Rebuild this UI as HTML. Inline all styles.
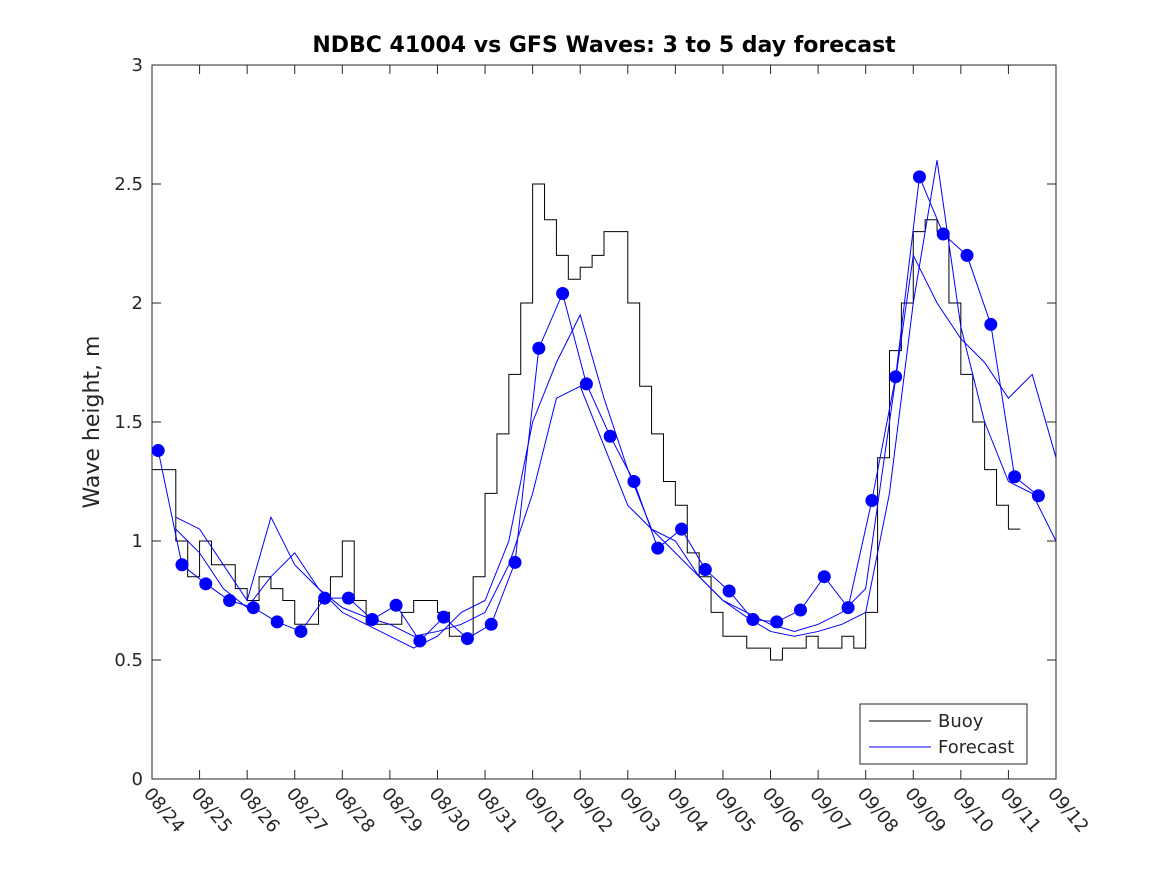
<!DOCTYPE html>
<html><head><meta charset="utf-8"><style>
body{margin:0;background:#fff;}
svg text{font-family:"DejaVu Sans","Liberation Sans",sans-serif;fill:#262626;}
</style></head><body>
<svg width="1167" height="875" viewBox="0 0 1167 875">
<rect width="1167" height="875" fill="#fff"/>
<defs><clipPath id="pc"><rect x="152" y="65" width="904" height="714"/></clipPath></defs>
<text x="604" y="52" text-anchor="middle" font-size="22" font-weight="bold" style="fill:#000">NDBC 41004 vs GFS Waves: 3 to 5 day forecast</text>
<g id="axes"></g>
<g id="series" clip-path="url(#pc)"></g>
<text transform="translate(99,422) rotate(-90)" text-anchor="middle" font-size="22">Wave height, m</text>
<g>
<rect x="860" y="704" width="167" height="60" fill="#fff" stroke="#262626" stroke-width="1"/>
<line x1="869" y1="721" x2="931" y2="721" stroke="#000"/>
<text x="938" y="727" font-size="18">Buoy</text>
<line x1="869" y1="747" x2="931" y2="747" stroke="#00f"/>
<text x="938" y="753" font-size="18">Forecast</text>
</g>
</svg>
<script>
const dateLabels=["08/24","08/25","08/26","08/27","08/28","08/29","08/30","08/31","09/01","09/02","09/03","09/04","09/05","09/06","09/07","09/08","09/09","09/10","09/11","09/12"];
const yTicks=[0,0.5,1,1.5,2,2.5,3];
const yTickLabels=["0","0.5","1","1.5","2","2.5","3"];
const buoyStart=0, buoyStep=0.25;
const buoyValues=[1.3,1.3,1.0,0.85,1.0,0.9,0.9,0.8,0.75,0.85,0.8,0.75,0.65,0.65,0.75,0.85,1.0,0.75,0.65,0.65,0.65,0.7,0.75,0.75,0.7,0.6,0.6,0.85,1.2,1.45,1.7,2.0,2.5,2.35,2.2,2.1,2.15,2.2,2.3,2.3,2.0,1.65,1.45,1.25,1.15,0.95,0.85,0.7,0.6,0.6,0.55,0.55,0.5,0.55,0.55,0.6,0.55,0.55,0.6,0.55,0.7,1.35,1.8,2.0,2.3,2.35,2.3,2.0,1.7,1.5,1.3,1.15,1.05,1.05];
const dotStart=0.13, dotStep=0.5;
const dotValues=[1.38,0.90,0.82,0.75,0.72,0.66,0.62,0.76,0.76,0.67,0.73,0.58,0.68,0.59,0.65,0.91,1.81,2.04,1.66,1.44,1.25,0.97,1.05,0.88,0.79,0.67,0.66,0.71,0.85,0.72,1.17,1.69,2.53,2.29,2.20,1.91,1.27,1.19];
const fStart=0.5, fStep=0.5;
const f2Values=[1.1,1.05,0.9,0.75,1.1,0.9,0.8,0.7,0.65,0.6,0.55,0.6,0.7,0.75,1.0,1.5,1.75,1.95,1.6,1.3,1.05,1.0,0.85,0.75,0.7,0.65,0.62,0.65,0.7,0.8,1.5,2.2,2.0,1.85,1.75,1.6,1.7,1.35];
const f3Values=[1.05,0.95,0.8,0.72,0.85,0.95,0.8,0.72,0.68,0.65,0.6,0.62,0.65,0.7,0.9,1.2,1.6,1.65,1.4,1.15,1.05,0.95,0.85,0.75,0.68,0.62,0.6,0.62,0.65,0.7,1.2,2.0,2.6,1.9,1.5,1.25,1.2,1.0];
const NS="http://www.w3.org/2000/svg";
const X0=152,X1=1056,Y0=779,Y1=65;
function xs(d){return X0+d*(X1-X0)/19;}
function ys(v){return Y0-v*(Y0-Y1)/3;}
function mk(t,a,p){const e=document.createElementNS(NS,t);for(const k in a)e.setAttribute(k,a[k]);p.appendChild(e);return e;}
const ax=document.getElementById('axes');
const box=mk('rect',{x:X0,y:Y1,width:X1-X0,height:Y0-Y1,fill:'none',stroke:'#262626','stroke-width':1},ax);


yTicks.forEach((v,i)=>{const y=ys(v);
 mk('line',{x1:X0,y1:y,x2:X0+9,y2:y,stroke:'#262626'},ax);
 mk('line',{x1:X1,y1:y,x2:X1-9,y2:y,stroke:'#262626'},ax);
 const t=mk('text',{x:X0-9,y:y+6,'text-anchor':'end','font-size':18},ax);t.textContent=yTickLabels[i];
 
 });
dateLabels.forEach((d,i)=>{const x=xs(i);
 mk('line',{x1:x,y1:Y0,x2:x,y2:Y0-9,stroke:'#262626'},ax);
 mk('line',{x1:x,y1:Y1,x2:x,y2:Y1+9,stroke:'#262626'},ax);
 const t=mk('text',{x:0,y:0,'font-size':18,transform:`translate(${x-9},${Y0+15}) rotate(50)`},ax);t.textContent=d;
 
 });
const sg=document.getElementById('series');
let bp='',py=0;buoyValues.forEach((v,i)=>{const x=xs(buoyStart+i*buoyStep),y=ys(v);bp+=i?`L${x},${py}L${x},${y}`:`M${x},${y}`;py=y;});
const bl=mk('path',{d:bp,fill:'none',stroke:'#000','stroke-width':1},sg);


function line(vals,start,step,name){const p=vals.map((v,i)=>`${i?'L':'M'}${xs(start+i*step)},${ys(v)}`).join('');
 const e=mk('path',{d:p,fill:'none',stroke:'#00f','stroke-width':1},sg);
 
 }
line(dotValues,dotStart,dotStep,'forecast-line-1');
line(f2Values,fStart,fStep,'forecast-line-2');
line(f3Values,fStart,fStep,'forecast-line-3');
dotValues.forEach((v,i)=>{const c=mk('ellipse',{cx:xs(dotStart+i*dotStep),cy:ys(v),rx:6.5,ry:6.5,fill:'#00f'},sg);
 
 });
</script>
</body></html>
